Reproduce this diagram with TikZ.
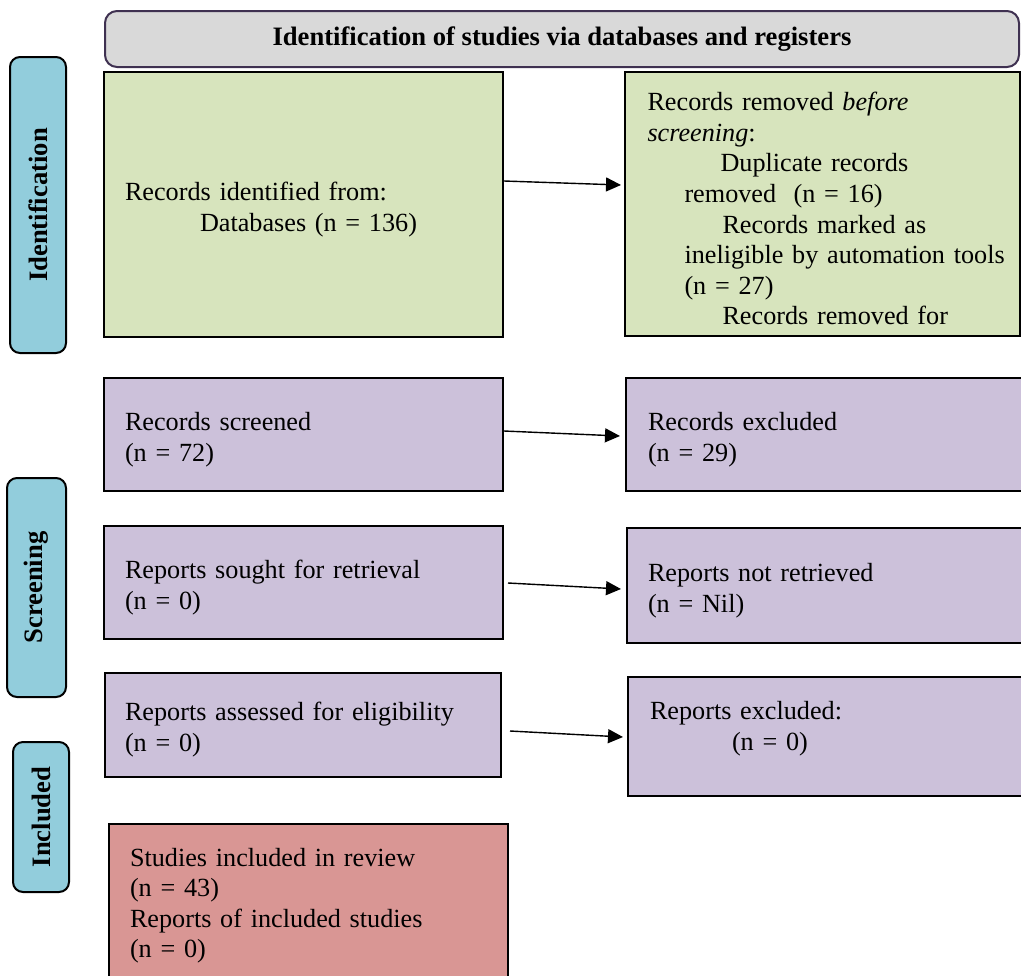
\documentclass[tikz,border=0pt]{standalone}
\usepackage{fontspec}
\setmainfont{Liberation Serif}
\usetikzlibrary{arrows.meta}

\definecolor{headgray}{HTML}{D9D9D9}
\definecolor{headline}{HTML}{3F3151}
\definecolor{sideblue}{HTML}{92CDDC}
\definecolor{idgreen}{HTML}{D7E4BD}
\definecolor{scrpurple}{HTML}{CCC1DA}
\definecolor{incred}{HTML}{D99694}
\newcommand{\boxfont}{\fontsize{13.1}{15.3}\selectfont}
\newcommand{\headfont}{\fontsize{13.3}{15.3}\selectfont\bfseries}

\begin{document}
\begin{tikzpicture}[x=0.5pt, y=-0.5pt]
    \tikzstyle{box} = [rectangle, draw, line width=1pt, align=left, font=\boxfont, inner sep=0pt, text height=14pt]
    \tikzstyle{head} = [rectangle, draw=headline, fill=headgray, rounded corners=6pt, line width=1pt, font=\headfont]
    \tikzstyle{side} = [rectangle, draw, fill=sideblue, rounded corners=5pt, line width=1pt, font=\headfont, rotate=90]
    \tikzstyle{line} = [draw, line width=0.7pt, -{Triangle[length=7.5pt, width=7pt]}]

    \useasboundingbox (0,0) rectangle (1021,975);

    % header and phase labels
    \node [head, minimum width=457pt, minimum height=28pt] (title) at (562,39) {Identification of studies via databases and registers};
    \node [side, minimum width=148pt, minimum height=28pt] (sideid) at (38,205) {Identification};
    \node [side, minimum width=109.5pt, minimum height=29.5pt] (sidescr) at (36.5,587.5) {Screening};
    \node [side, minimum width=75pt, minimum height=28pt] (sideinc) at (41,817) {Included};

    % identification
    \node [box, fill=idgreen, minimum width=199.5pt, minimum height=132.5pt, text width=178.5pt] (ident) at (303.5,204.5) {Records identified from:\\ \hspace*{37.5pt}Databases (n = 136)};
    \node [box, fill=idgreen, minimum width=197.5pt, minimum height=132pt, text width=175pt] (removed) at (822.5,204) {Records removed \textit{before}\\ \textit{screening}:\\ \hspace*{36.5pt}Duplicate records\\ \hspace*{18.5pt}removed\ \ (n = 16)\\ \hspace*{37.5pt}Records marked as\\ \hspace*{18.5pt}\mbox{ineligible by automation tools}\\ \hspace*{18.5pt}(n = 27)\\ \hspace*{37.5pt}Records removed for};

    % screening
    \node [box, fill=scrpurple, minimum width=199.5pt, minimum height=56.5pt, text width=178.5pt] (screened) at (303.5,434.5) {Records screened\\ (n = 72)};
    \node [box, fill=scrpurple, minimum width=199.5pt, minimum height=56.5pt, text width=177.5pt] (excluded) at (825.5,434.5) {Records excluded\\ (n = 29)};
    \node [box, fill=scrpurple, minimum width=199.5pt, minimum height=56.5pt, text width=178.5pt] (sought) at (303.5,582.5) {Reports sought for retrieval\\ (n = 0)};
    \node [box, fill=scrpurple, minimum width=199pt, minimum height=57.5pt, text width=178pt] (notretr) at (826,585.5) {Reports not retrieved\\ (n = Nil)};
    \node [box, fill=scrpurple, minimum width=198pt, minimum height=52pt, text width=178pt] (assessed) at (303,725) {Reports assessed for eligibility\\ (n = 0)};
    \node [box, fill=scrpurple, minimum width=198.5pt, minimum height=59.5pt, text width=176.5pt, text depth=30.6pt] (rptexcl) at (826.5,736.5) {Reports excluded:\\ \hspace*{41pt}(n = 0)};

    % included
    \node [box, fill=incred, minimum width=199.5pt, minimum height=83pt, text width=178.5pt, text depth=55pt] (included) at (308.5,907) {Studies included in review\\ (n = 43)\\ Reports of included studies\\ (n = 0)};

    \draw [line] ([yshift=11.75pt]ident.east) -- ([xshift=-1.5pt, yshift=9.5pt]removed.west);
    \draw [line] ([yshift=1.75pt]screened.east) -- ([xshift=-2.5pt, yshift=-0.75pt]excluded.west);
    \draw [line] ([xshift=2pt, yshift=-0.25pt]sought.east) -- ([xshift=-2.5pt, yshift=-1.75pt]notretr.west);
    \draw [line] ([xshift=4pt, yshift=-3pt]assessed.east) -- ([xshift=-2pt, yshift=-0.25pt]rptexcl.west);
\end{tikzpicture}
\end{document}
